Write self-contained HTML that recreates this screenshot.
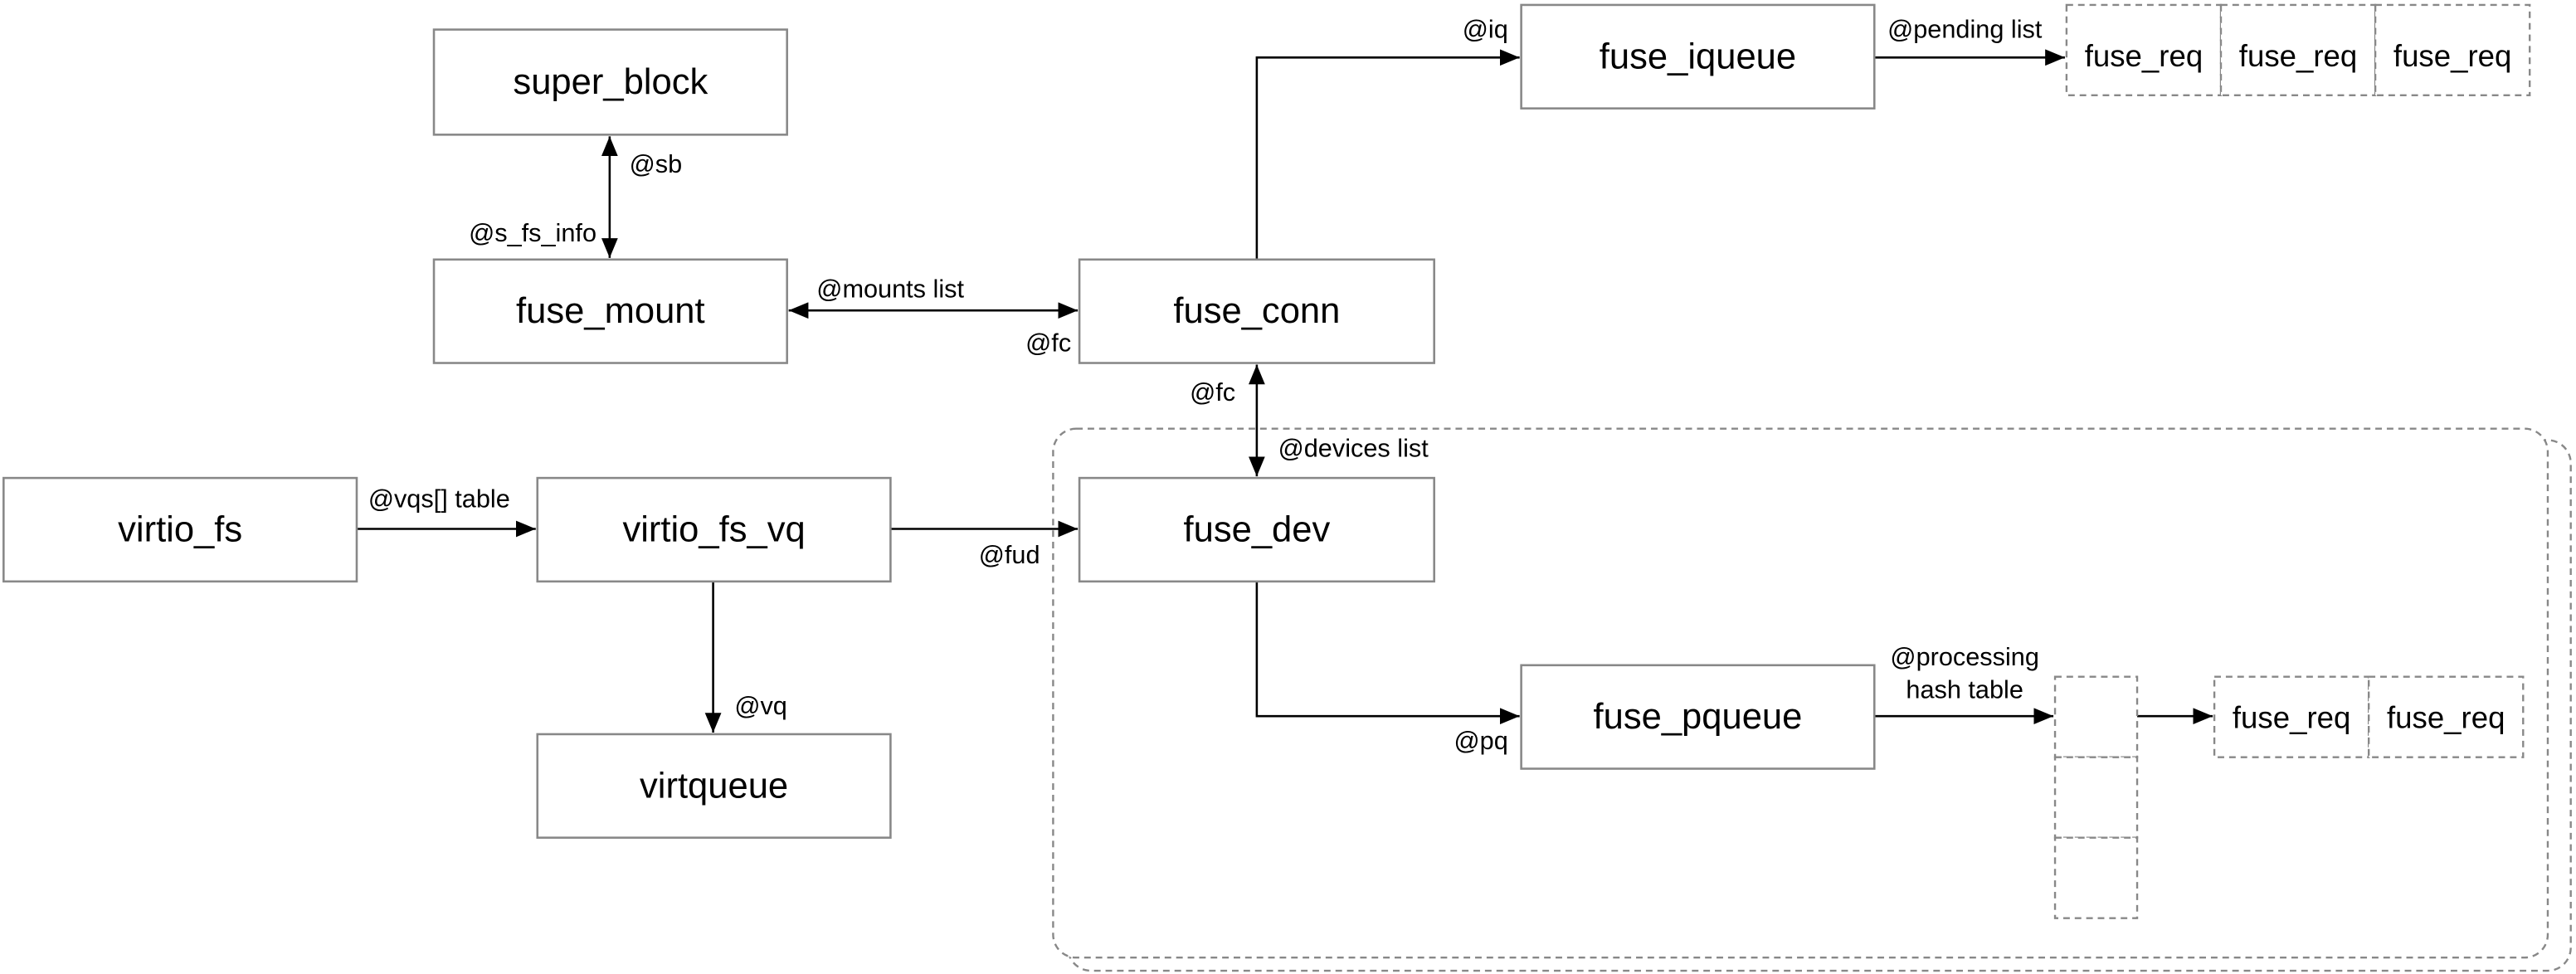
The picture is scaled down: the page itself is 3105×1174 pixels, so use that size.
<!DOCTYPE html>
<html><head><meta charset="utf-8"><style>
html,body{margin:0;padding:0;background:#fff;}
svg{display:block;}
text{font-family:"Liberation Sans",Arial,sans-serif;fill:#000;}
.t{font-size:22px;text-anchor:middle;dominant-baseline:central;}
.l{font-size:15.5px;}
.b{fill:#fff;stroke:#888;stroke-width:1.3;}
.d{fill:#fff;stroke:#888;stroke-width:1.2;stroke-dasharray:4 3;}
.c{stroke:#000;stroke-width:1.3;fill:none;}
</style></head><body>
<svg width="3105" height="1174" viewBox="0 0 1568 593" xmlns="http://www.w3.org/2000/svg">
<defs>
<marker id="a" markerWidth="12" markerHeight="10" refX="12" refY="5" orient="auto" markerUnits="userSpaceOnUse">
<path d="M0,0 L12,5 L0,10 z" fill="#000"/></marker>
<marker id="s" markerWidth="12" markerHeight="10" refX="0" refY="5" orient="auto" markerUnits="userSpaceOnUse">
<path d="M12,0 L0,5 L12,10 z" fill="#000"/></marker>
</defs>
<rect x="650" y="268" width="915" height="323" rx="14" class="d"/>
<rect x="641" y="261" width="910" height="322" rx="14" class="d"/>

<line x1="371" y1="83" x2="371" y2="157" class="c" marker-start="url(#s)" marker-end="url(#a)"/>
<line x1="480" y1="189" x2="656" y2="189" class="c" marker-start="url(#s)" marker-end="url(#a)"/>
<polyline points="765,158 765,35 925,35" class="c" marker-end="url(#a)"/>
<line x1="1141" y1="35" x2="1257" y2="35" class="c" marker-end="url(#a)"/>
<line x1="765" y1="222" x2="765" y2="290" class="c" marker-start="url(#s)" marker-end="url(#a)"/>
<line x1="217" y1="322" x2="326" y2="322" class="c" marker-end="url(#a)"/>
<line x1="542" y1="322" x2="656" y2="322" class="c" marker-end="url(#a)"/>
<line x1="434" y1="354" x2="434" y2="446" class="c" marker-end="url(#a)"/>
<polyline points="765,354 765,436 925,436" class="c" marker-end="url(#a)"/>
<line x1="1141" y1="436" x2="1250" y2="436" class="c" marker-end="url(#a)"/>
<line x1="1301" y1="436" x2="1347" y2="436" class="c" marker-end="url(#a)"/>

<rect x="264" y="18" width="215" height="64" class="b"/><text x="371.5" y="50" class="t">super_block</text>
<rect x="264" y="158" width="215" height="63" class="b"/><text x="371.5" y="189.5" class="t">fuse_mount</text>
<rect x="657" y="158" width="216" height="63" class="b"/><text x="765" y="189.5" class="t">fuse_conn</text>
<rect x="926" y="3" width="215" height="63" class="b"/><text x="1033.5" y="34.5" class="t">fuse_iqueue</text>
<rect x="2" y="291" width="215" height="63" class="b"/><text x="109.5" y="322.5" class="t">virtio_fs</text>
<rect x="327" y="291" width="215" height="63" class="b"/><text x="434.5" y="322.5" class="t">virtio_fs_vq</text>
<rect x="327" y="447" width="215" height="63" class="b"/><text x="434.5" y="478.5" class="t">virtqueue</text>
<rect x="657" y="291" width="216" height="63" class="b"/><text x="765" y="322.5" class="t">fuse_dev</text>
<rect x="926" y="405" width="215" height="63" class="b"/><text x="1033.5" y="436.5" class="t">fuse_pqueue</text>

<rect x="1258" y="3" width="94" height="55" class="d"/><text x="1305" y="34" class="t" style="font-size:18.5px">fuse_req</text>
<rect x="1352" y="3" width="94" height="55" class="d"/><text x="1399" y="34" class="t" style="font-size:18.5px">fuse_req</text>
<rect x="1446" y="3" width="94" height="55" class="d"/><text x="1493" y="34" class="t" style="font-size:18.5px">fuse_req</text>

<rect x="1251" y="412" width="50" height="49" class="d"/>
<rect x="1251" y="461" width="50" height="49" class="d"/>
<rect x="1251" y="510" width="50" height="49" class="d"/>
<rect x="1348" y="412" width="94" height="49" class="d"/><text x="1395" y="437" class="t" style="font-size:18.5px">fuse_req</text>
<rect x="1442" y="412" width="94" height="49" class="d"/><text x="1489" y="437" class="t" style="font-size:18.5px">fuse_req</text>

<text x="383" y="105" class="l">@sb</text>
<text x="363" y="147" class="l" text-anchor="end">@s_fs_info</text>
<text x="497" y="181" class="l">@mounts list</text>
<text x="652" y="214" class="l" text-anchor="end">@fc</text>
<text x="918" y="23" class="l" text-anchor="end">@iq</text>
<text x="1149" y="23" class="l">@pending list</text>
<text x="752" y="244" class="l" text-anchor="end">@fc</text>
<text x="778" y="278" class="l">@devices list</text>
<text x="224" y="309" class="l">@vqs[] table</text>
<text x="633" y="343" class="l" text-anchor="end">@fud</text>
<text x="447" y="435" class="l">@vq</text>
<text x="918" y="456" class="l" text-anchor="end">@pq</text>
<text x="1196" y="405" class="l" text-anchor="middle">@processing</text>
<text x="1196" y="425" class="l" text-anchor="middle">hash table</text>
</svg>
</body></html>
